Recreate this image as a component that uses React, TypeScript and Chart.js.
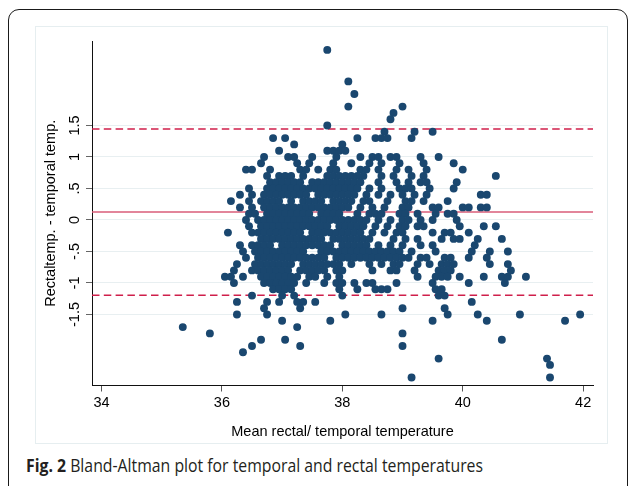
import React, { useEffect, useLayoutEffect, useRef } from "react";
import { Chart, registerables } from "chart.js";

Chart.register(...registerables);

// ---- axis ticks / ranges ----
const xTickValues = [34, 36, 38, 40, 42];
const yTickValues = [-1.5, -1, -0.5, 0, 0.5, 1, 1.5];
const yTickLabels = ["-1.5", "-1", "-.5", "0", ".5", "1", "1.5"];
const xRange = [33.842, 42.164];
const yRange = [-2.627, 2.841];

// ---- Bland-Altman reference lines ----
const meanDiff = 0.125;
const upperLimit = 1.445;
const lowerLimit = -1.195;

// ---- observations: [difference (rectal - temporal), list of means] ----
const rows: [number, number[]][] = [
  [2.7, [37.75]],
  [2.2, [38.1]],
  [2.0, [38.2]],
  [1.8, [38.1, 39.0]],
  [1.7, [38.85]],
  [1.6, [38.8]],
  [1.5, [37.75]],
  [1.4, [38.7, 39.2, 39.5]],
  [1.3, [36.85, 37.05, 38.25, 38.55, 38.65, 38.75, 39.15]],
  [1.2, [37.2, 38.0]],
  [1.1, [36.95, 37.75, 37.85, 37.95, 38.05]],
  [1.0, [36.7, 37.1, 37.2, 37.5, 37.9, 38.3, 38.5, 38.6, 38.8, 38.9, 39.3, 39.6]],
  [0.9, [36.65, 37.25, 37.45, 37.85, 38.15, 38.45, 38.65, 38.95, 39.35, 39.85]],
  [0.8, [36.4, 36.5, 36.8, 37.3, 37.4, 37.6, 37.8, 37.9, 38.3, 38.4, 38.6, 38.9, 39.1, 39.4, 40.0]],
  [0.7, [36.75, 36.95, 37.05, 37.15, 37.35, 37.75, 37.85, 37.95, 38.05, 38.15, 38.25, 38.35, 38.65, 38.85, 39.15, 39.35, 40.55]],
  [0.6, [36.8, 36.9, 37.0, 37.1, 37.2, 37.3, 37.5, 37.6, 37.7, 37.8, 37.9, 38.0, 38.1, 38.2, 38.3, 38.6, 38.9, 39.1, 39.3, 39.4, 39.9]],
  [0.5, [36.45, 36.75, 36.85, 36.95, 37.05, 37.15, 37.25, 37.35, 37.45, 37.55, 37.65, 37.75, 37.85, 37.95, 38.05, 38.15, 38.25, 38.45, 38.65, 38.95, 39.05, 39.15, 39.45, 39.85]],
  [0.4, [36.3, 36.5, 36.7, 36.8, 36.9, 37.0, 37.1, 37.2, 37.3, 37.4, 37.6, 37.7, 37.8, 37.9, 38.0, 38.1, 38.2, 38.4, 38.6, 38.8, 39.0, 39.2, 39.4, 40.3, 40.4]],
  [0.3, [36.15, 36.45, 36.65, 36.75, 36.85, 36.95, 37.15, 37.35, 37.45, 37.55, 37.65, 37.85, 37.95, 38.05, 38.15, 38.35, 38.45, 38.75, 39.05, 39.15, 39.35, 39.75]],
  [0.2, [36.3, 36.5, 36.7, 36.8, 36.9, 37.0, 37.1, 37.2, 37.3, 37.4, 37.5, 37.6, 37.7, 37.8, 37.9, 38.0, 38.1, 38.3, 38.5, 38.7, 39.0, 39.1, 39.5, 39.6, 40.0, 40.1, 40.3, 40.4]],
  [0.1, [36.45, 36.55, 36.75, 36.85, 36.95, 37.05, 37.15, 37.25, 37.35, 37.45, 37.65, 37.75, 37.85, 37.95, 38.25, 38.45, 38.55, 38.65, 38.95, 39.05, 39.25, 39.55, 39.75, 39.85]],
  [0.0, [36.4, 36.6, 36.7, 36.8, 36.9, 37.0, 37.1, 37.2, 37.3, 37.4, 37.5, 37.6, 37.7, 37.8, 37.9, 38.0, 38.1, 38.2, 38.3, 38.4, 38.6, 38.8, 39.0, 39.1, 39.3, 39.5, 39.9]],
  [-0.1, [36.45, 36.65, 36.75, 36.85, 36.95, 37.05, 37.15, 37.25, 37.35, 37.45, 37.55, 37.65, 37.75, 37.95, 38.05, 38.15, 38.25, 38.35, 38.55, 38.75, 38.95, 39.05, 39.25, 39.35, 39.95, 40.35, 40.55]],
  [-0.2, [36.1, 36.5, 36.6, 36.7, 36.8, 36.9, 37.0, 37.1, 37.2, 37.3, 37.5, 37.6, 37.7, 37.8, 37.9, 38.0, 38.1, 38.2, 38.3, 38.5, 38.7, 38.9, 39.0, 39.5, 39.7, 39.8, 40.1]],
  [-0.3, [36.65, 36.75, 36.85, 36.95, 37.05, 37.15, 37.25, 37.35, 37.45, 37.55, 37.65, 37.85, 37.95, 38.05, 38.15, 38.25, 38.35, 38.45, 38.85, 39.05, 39.25, 39.65, 39.85, 39.95, 40.25, 40.65]],
  [-0.4, [36.3, 36.5, 36.6, 36.7, 36.8, 37.0, 37.1, 37.2, 37.3, 37.4, 37.5, 37.6, 37.7, 37.8, 38.0, 38.1, 38.2, 38.3, 38.4, 38.6, 38.8, 39.0, 39.3, 39.5, 40.2]],
  [-0.5, [36.35, 36.55, 36.65, 36.75, 36.85, 36.95, 37.05, 37.15, 37.25, 37.35, 37.65, 37.75, 37.85, 37.95, 38.05, 38.15, 38.25, 38.35, 38.45, 38.55, 38.65, 38.75, 38.85, 38.95, 39.15, 39.55, 40.15, 40.45, 40.75]],
  [-0.6, [36.4, 36.6, 36.7, 36.8, 36.9, 37.0, 37.1, 37.2, 37.3, 37.4, 37.5, 37.6, 37.7, 37.9, 38.0, 38.1, 38.2, 38.3, 38.4, 38.5, 38.6, 38.7, 38.8, 38.9, 39.0, 39.1, 39.3, 39.4, 39.7, 39.8, 40.1, 40.4]],
  [-0.7, [36.25, 36.55, 36.65, 36.75, 36.85, 36.95, 37.05, 37.15, 37.35, 37.45, 37.55, 37.65, 37.75, 37.85, 37.95, 38.15, 38.45, 38.65, 38.85, 38.95, 39.25, 39.45, 39.65, 39.75, 39.85, 40.45, 40.75]],
  [-0.8, [36.2, 36.5, 36.6, 36.7, 36.8, 36.9, 37.0, 37.1, 37.3, 37.4, 37.5, 37.6, 37.7, 37.9, 38.0, 38.5, 38.8, 38.9, 39.2, 39.6, 39.7, 39.8, 40.8]],
  [-0.9, [36.05, 36.15, 36.35, 36.65, 36.75, 36.85, 36.95, 37.05, 37.15, 37.25, 37.45, 37.55, 37.75, 37.95, 39.25, 39.55, 39.65, 39.75, 39.95, 40.35, 40.65, 40.75, 41.05]],
  [-1.0, [36.2, 36.7, 36.8, 36.9, 37.0, 37.1, 37.2, 37.4, 37.7, 37.9, 38.0, 38.2, 38.4, 38.5, 38.9, 39.5, 40.1, 40.7]],
  [-1.1, [36.85, 36.95, 37.05, 37.15, 37.95, 38.25, 38.55, 38.65, 38.75, 39.55, 39.65]],
  [-1.2, [36.5, 37.0, 37.2, 38.0, 39.6, 39.7]],
  [-1.3, [36.25, 36.75, 36.95, 37.25, 37.35, 37.55, 40.15]],
  [-1.4, [36.7, 37.3, 39.0, 39.7]],
  [-1.5, [36.25, 36.75, 38.05, 38.65, 39.75, 40.25, 40.95, 41.95]],
  [-1.6, [37.0, 37.8, 39.5, 40.4, 41.7]],
  [-1.7, [35.35, 37.25]],
  [-1.8, [35.8, 39.0]],
  [-1.9, [36.65, 37.05, 40.65]],
  [-2.0, [36.5, 37.3, 39.0]],
  [-2.1, [36.35]],
  [-2.2, [39.6, 41.4]],
  [-2.3, [41.45]],
  [-2.5, [39.15, 41.45]],
];

const points = rows.flatMap(([d, means]) => means.map((m) => ({ x: m, y: d })));

const AXIS_FONT = "'Liberation Sans', Arial, Helvetica, sans-serif";
const FONT_SIZE = 14.5;

const rotatedYLabels = {
  id: "rotatedYLabels",
  afterDraw(chart: any) {
    const s = chart.scales.y;
    const ctx = chart.ctx;
    ctx.save();
    ctx.font = `${FONT_SIZE}px ${AXIS_FONT}`;
    ctx.fillStyle = "#000";
    ctx.textAlign = "center";
    ctx.textBaseline = "middle";
    yTickValues.forEach((v, i) => {
      const py = s.getPixelForValue(v);
      ctx.save();
      ctx.translate(s.right - 17, py);
      ctx.rotate(-Math.PI / 2);
      ctx.fillText(yTickLabels[i], 0, 0);
      ctx.restore();
    });
    ctx.restore();
  },
};

function refLine(y: number, color: string, dash: number[], width: number) {
  return {
    type: "scatter" as const,
    data: [
      { x: xRange[0], y },
      { x: xRange[1], y },
    ],
    showLine: true,
    borderColor: color,
    borderWidth: width,
    borderDash: dash,
    pointRadius: 0,
    order: 1,
  };
}

function BlandAltman() {
  const ref = useRef<HTMLCanvasElement>(null);
  useEffect(() => {
    if (!ref.current) return;
    const chart = new Chart(ref.current, {
      type: "scatter",
      data: {
        datasets: [
          {
            data: points,
            pointRadius: 3.95,
            pointBackgroundColor: "#1a476f",
            pointBorderWidth: 0,
            pointHoverRadius: 3.95,
            order: 0,
          },
          refLine(meanDiff, "#d95d78", [], 1.5),
          refLine(upperLimit, "#cf1f4b", [7.5, 4.3], 1.5),
          refLine(lowerLimit, "#cf1f4b", [7.5, 4.3], 1.4),
        ] as any,
      },
      options: {
        responsive: false,
        animation: false,
        events: [],
        layout: { padding: { left: 0, right: 14, top: 14, bottom: 0 } },
        plugins: { legend: { display: false }, tooltip: { enabled: false } },
        scales: {
          x: {
            type: "linear",
            min: xRange[0],
            max: xRange[1],
            afterBuildTicks: (s: any) => {
              s.ticks = xTickValues.map((v) => ({ value: v }));
            },
            afterFit: (s: any) => {
              s.height = 56.5;
            },
            ticks: {
              callback: (v: any) => String(v),
              color: "#000",
              font: { family: AXIS_FONT, size: FONT_SIZE },
              padding: 3,
              maxRotation: 0,
            },
            grid: {
              drawOnChartArea: false,
              drawTicks: true,
              tickLength: 6,
              tickColor: "#555",
              tickWidth: 1,
            },
            border: { display: true, color: "#111", width: 1 },
            title: {
              display: true,
              text: "Mean rectal/ temporal temperature",
              color: "#000",
              font: { family: AXIS_FONT, size: FONT_SIZE },
              padding: { top: 0, bottom: 1.5 },
            },
          },
          y: {
            type: "linear",
            min: yRange[0],
            max: yRange[1],
            afterBuildTicks: (s: any) => {
              s.ticks = yTickValues.map((v) => ({ value: v }));
            },
            afterFit: (s: any) => {
              s.width = 56;
            },
            ticks: { display: false },
            grid: {
              color: "#e8eff1",
              lineWidth: 1,
              drawTicks: true,
              tickLength: 6,
              tickColor: "#666",
              tickWidth: 1,
            },
            border: { display: true, color: "#111", width: 1 },
            title: {
              display: true,
              text: "Rectaltemp. - temporal temp.",
              color: "#000",
              font: { family: AXIS_FONT, size: FONT_SIZE },
              padding: { top: 5.8, bottom: 0 },
            },
          },
        },
      },
      plugins: [rotatedYLabels],
    });
    return () => chart.destroy();
  }, []);
  return <canvas ref={ref} width={571} height={415} style={{ width: 571, height: 415, display: "block" }} />;
}

export default function App() {
  const capRef = useRef<HTMLSpanElement>(null);
  useLayoutEffect(() => {
    const el = capRef.current;
    if (!el) return;
    el.style.transform = "none";
    const w = el.getBoundingClientRect().width;
    if (w > 0) el.style.transform = `scaleX(${457 / w})`;
  }, []);
  return (
    <div style={{ position: "absolute", left: 0, top: 0, width: 629, height: 486, overflow: "hidden", background: "#fff" }}>
      <div
        style={{
          position: "absolute",
          left: 8,
          top: 9,
          width: 620,
          height: 520,
          boxSizing: "border-box",
          border: "1.6px solid #1a1a1a",
          borderRadius: 11,
        }}
      />
      <div
        style={{
          position: "absolute",
          left: 35,
          top: 25.5,
          width: 573,
          height: 418,
          boxSizing: "border-box",
          border: "1px solid #e6eef0",
        }}
      />
      <div style={{ position: "absolute", left: 36, top: 27 }}>
        <BlandAltman />
      </div>
      <span
        ref={capRef}
        style={{
          position: "absolute",
          left: 26,
          top: 454,
          whiteSpace: "nowrap",
          display: "inline-block",
          transformOrigin: "left center",
          fontFamily: "'Open Sans', sans-serif",
          fontSize: 17.5,
          lineHeight: "22px",
          color: "#231f20",
        }}
      >
        <b>Fig. 2</b> Bland-Altman plot for temporal and rectal temperatures
      </span>
    </div>
  );
}
